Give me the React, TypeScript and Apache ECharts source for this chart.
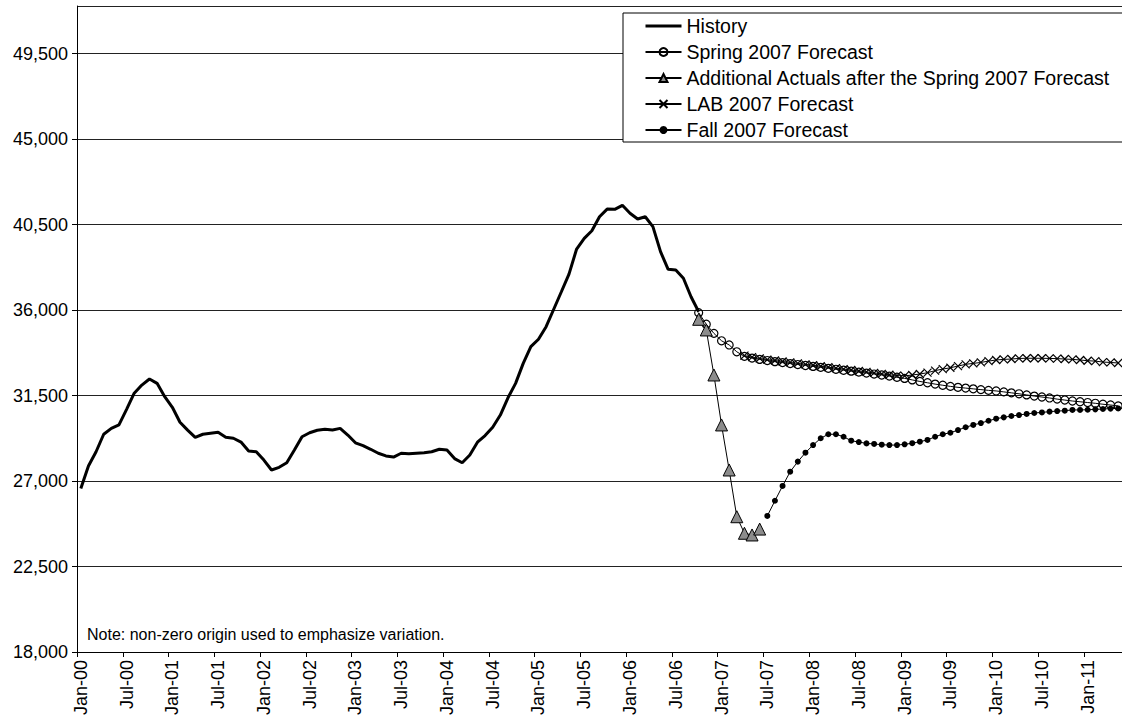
import React, { useEffect, useRef } from "react";
import * as echarts from "echarts";

// ---------- Data ----------
const monthNames = ["Jan", "Feb", "Mar", "Apr", "May", "Jun", "Jul", "Aug", "Sep", "Oct", "Nov", "Dec"];
const monthCount = 137; // Jan-00 .. May-11
const categories: string[] = [];
for (let k = 0; k < monthCount; k++) {
  const yy = Math.floor(k / 12);
  categories.push(`${monthNames[k % 12]}-${String(yy).padStart(2, "0")}`);
}

const historyStart = "Jan-00";
const historyValues = [
  26600, 27790, 28540, 29460, 29770, 29950, 30770, 31620, 32050, 32370, 32140, 31440,
  30880, 30090, 29680, 29300, 29460, 29510, 29560, 29300, 29250, 29050, 28580, 28540,
  28100, 27580, 27720, 27960, 28630, 29330, 29540, 29670, 29720, 29680, 29770, 29420,
  29010, 28860, 28670, 28460, 28320, 28260, 28460, 28430, 28460, 28490, 28540, 28670,
  28630, 28180, 27960, 28370, 29040, 29390, 29830, 30470, 31380, 32140, 33190, 34070,
  34460, 35120, 36040, 36960, 37890, 39210, 39770, 40170, 40910, 41310, 41300, 41510,
  41090, 40790, 40910, 40390, 39070, 38140, 38100, 37670, 36700, 35910,
];

const springStart = "Oct-06";
const springValues = [
  35860, 35250, 34770, 34380, 34160, 33800, 33560, 33470, 33400, 33340, 33280, 33230,
  33180, 33130, 33080, 33030, 32980, 32930, 32880, 32830, 32780, 32730, 32680, 32630,
  32580, 32520, 32460, 32400, 32320, 32240, 32170, 32100, 32040, 31980, 31930, 31890,
  31850, 31810, 31770, 31740, 31690, 31640, 31590, 31530, 31470, 31420, 31370, 31310,
  31260, 31210, 31170, 31130, 31090, 31040, 31000, 30950,
];

const actualsStart = "Oct-06";
const actualsValues = [35510, 34950, 32580, 29950, 27580, 25120, 24250, 24160, 24470];

const labStart = "Apr-07";
const labValues = [
  33600, 33520, 33450, 33390, 33340, 33290, 33240, 33190, 33140, 33090, 33040, 32990,
  32940, 32890, 32840, 32790, 32740, 32690, 32640, 32590, 32550, 32530, 32580, 32630,
  32700, 32810, 32890, 32960, 33050, 33140, 33190, 33240, 33310, 33370, 33400, 33420,
  33450, 33460, 33460, 33460, 33450, 33440, 33420, 33400, 33370, 33330, 33310, 33260,
  33240, 33210,
];

const fallStart = "Jul-07";
const fallValues = [
  25160, 25960, 26740, 27490, 28020, 28490, 28890, 29250, 29460, 29460, 29330, 29120,
  29050, 28980, 28950, 28910, 28890, 28890, 28930, 28990, 29070, 29160, 29330, 29460,
  29540, 29680, 29830, 29950, 30050, 30170, 30280, 30350, 30420, 30470, 30530, 30580,
  30610, 30650, 30680, 30700, 30740, 30740, 30750, 30770, 30790, 30810, 30820,
];

const seriesNames = [
  "History",
  "Spring 2007 Forecast",
  "Additional Actuals after the Spring 2007 Forecast",
  "LAB 2007 Forecast",
  "Fall 2007 Forecast",
];

const yMin = 18000;
const yMax = 52000;
const yStep = 4500;
const noteText = "Note: non-zero origin used to emphasize variation.";

// ---------- helpers ----------
const place = (start: string, vals: number[]) => {
  const s = categories.indexOf(start);
  return categories.map((_, i) => {
    const k = i - s;
    return k >= 0 && k < vals.length ? vals[k] : null;
  });
};
const fmt = (v: number) => String(v).replace(/\B(?=(\d{3})+(?!\d))/g, ",");

const FONT = "'Liberation Sans', Arial, Helvetica, sans-serif";

export default function App() {
  const ref = useRef<HTMLDivElement>(null);
  useEffect(() => {
    if (!ref.current) return;
    const chart = echarts.init(ref.current, null, { renderer: "svg" });
    const lineBase = { type: "line" as const, connectNulls: false, showAllSymbol: true };
    chart.setOption({
      animation: false,
      backgroundColor: "#fff",
      textStyle: { fontFamily: FONT, color: "#000" },
      grid: { left: 77, right: 0, top: 6, bottom: 73, containLabel: false },
      legend: {
        orient: "vertical",
        left: 623,
        top: 13,
        backgroundColor: "#fff",
        borderColor: "#000",
        borderWidth: 1,
        borderRadius: 0,
        padding: [3, 60, 2, 21],
        itemGap: 6,
        itemWidth: 36,
        itemHeight: 10,
        textStyle: { fontSize: 19.5, color: "#000", fontFamily: FONT, lineHeight: 20 },
        data: [
          { name: seriesNames[0], lineStyle: { width: 3, color: "#000" } },
          seriesNames[1],
          seriesNames[2],
          seriesNames[3],
          seriesNames[4],
        ],
      },
      xAxis: {
        type: "category",
        data: categories,
        boundaryGap: true,
        axisLine: { show: true, lineStyle: { color: "#000", width: 1 } },
        axisTick: { show: true, interval: 5, length: 5, lineStyle: { color: "#000" } },
        axisLabel: {
          interval: 5,
          rotate: 90,
          margin: 8,
          fontSize: 18,
          color: "#000",
          fontFamily: FONT,
        },
        splitLine: { show: false },
      },
      yAxis: {
        type: "value",
        min: yMin,
        max: yMax,
        interval: yStep,
        axisLine: { show: true, lineStyle: { color: "#000", width: 1 } },
        axisTick: { show: true, length: 5, lineStyle: { color: "#000" } },
        axisLabel: {
          showMaxLabel: false,
          margin: 9,
          fontSize: 18,
          color: "#000",
          fontFamily: FONT,
          formatter: (v: number) => fmt(v),
        },
        splitLine: { show: true, lineStyle: { color: "#222", width: 1 } },
      },
      graphic: [
        {
          type: "text",
          left: 87,
          top: 626,
          style: { text: noteText, fontSize: 16, fill: "#000", fontFamily: FONT },
        },
      ],
      series: [
        {
          ...lineBase,
          name: seriesNames[0],
          data: place(historyStart, historyValues),
          symbol: "none",
          showSymbol: false,
          lineStyle: { color: "#000", width: 3 },
          itemStyle: { color: "rgba(0,0,0,0)", borderWidth: 0 },
          z: 3,
        },
        {
          ...lineBase,
          name: seriesNames[1],
          data: place(springStart, springValues),
          symbol: "circle",
          symbolSize: 8,
          lineStyle: { color: "#000", width: 1 },
          itemStyle: { color: "rgba(255,255,255,0)", borderColor: "#000", borderWidth: 1.2 },
          z: 2,
        },
        {
          ...lineBase,
          name: seriesNames[2],
          data: place(actualsStart, actualsValues),
          symbol: "triangle",
          symbolSize: 12,
          lineStyle: { color: "#000", width: 1 },
          itemStyle: { color: "#8c8c8c", borderColor: "#000", borderWidth: 1 },
          z: 4,
        },
        {
          ...lineBase,
          name: seriesNames[3],
          data: place(labStart, labValues),
          symbol: "path://M0,0L10,10M10,0L0,10",
          symbolSize: 8,
          lineStyle: { color: "#000", width: 1 },
          itemStyle: { color: "#000", borderColor: "#000", borderWidth: 1.2 },
          z: 2,
        },
        {
          ...lineBase,
          name: seriesNames[4],
          data: place(fallStart, fallValues),
          symbol: "circle",
          symbolSize: 6,
          lineStyle: { color: "#000", width: 1 },
          itemStyle: { color: "#000" },
          z: 2,
        },
      ],
    });
    return () => chart.dispose();
  }, []);
  return (
    <div
      ref={ref}
      style={{ position: "fixed", left: 0, top: 0, width: 1122, height: 725, background: "#fff" }}
    />
  );
}
